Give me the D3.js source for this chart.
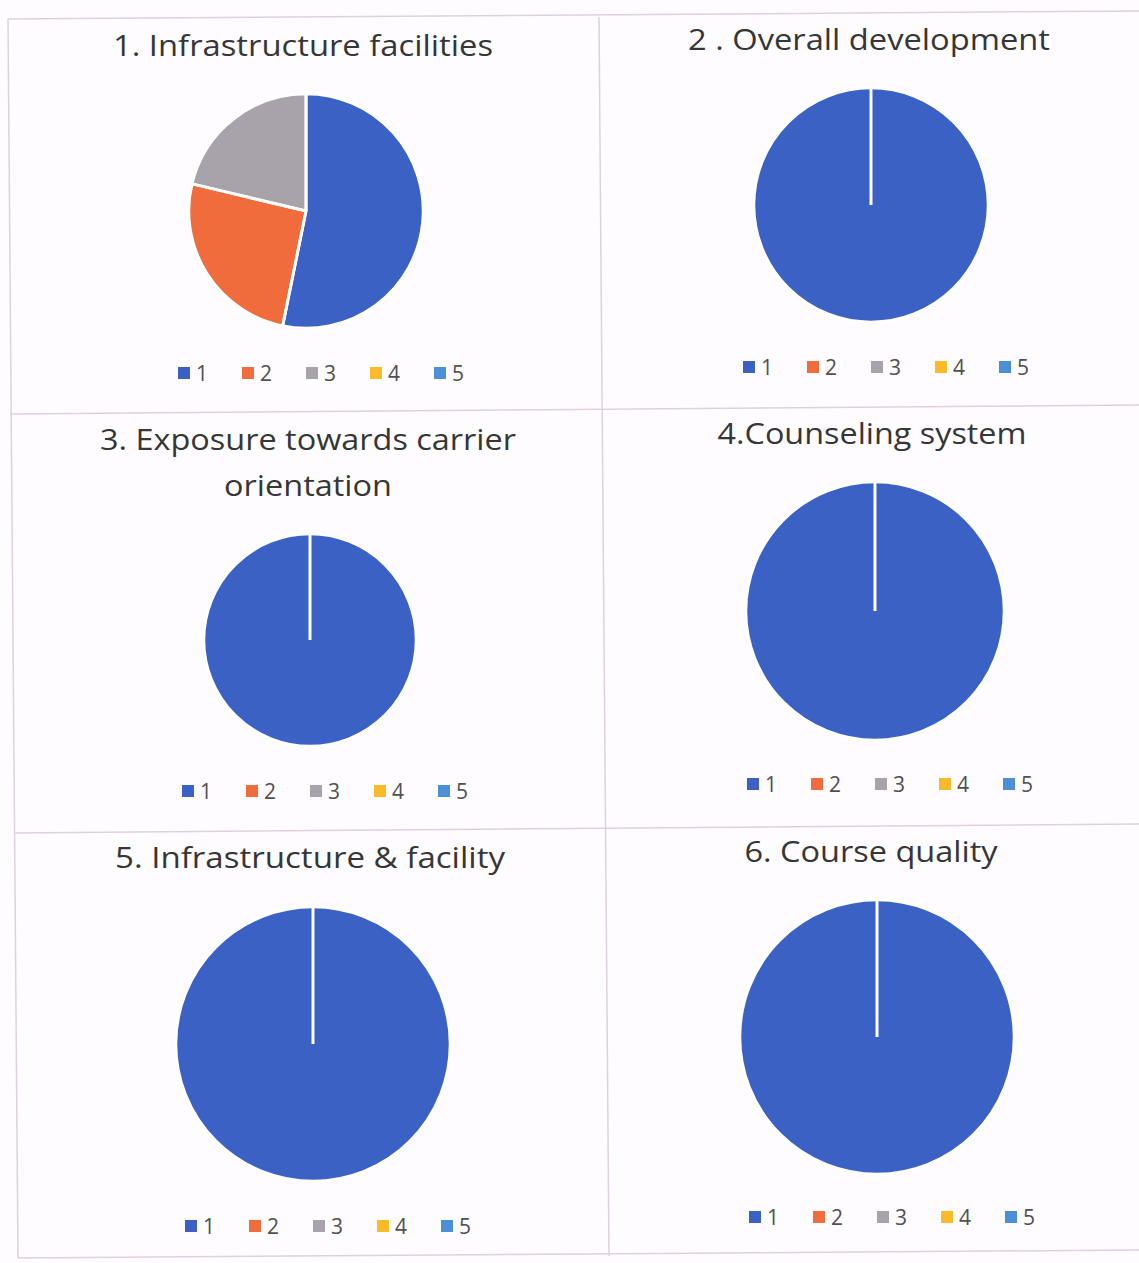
<!DOCTYPE html>
<html><head><meta charset="utf-8">
<script src="https://cdn.jsdelivr.net/npm/d3@7"></script>
<style>html,body{margin:0;padding:0;background:#fefcfe;}svg{display:block;}</style>
</head><body>
<script>
// ---- data ----
const categories = ["1","2","3","4","5"];
const titles = [
  ["1. Infrastructure facilities"],
  ["2 . Overall development"],
  ["3. Exposure towards carrier","orientation"],
  ["4.Counseling system"],
  ["5. Infrastructure & facility"],
  ["6. Course quality"]
];
const values1 = [25, 12, 10, 0, 0];
const values2 = [47, 0, 0, 0, 0];
const values3 = [47, 0, 0, 0, 0];
const values4 = [47, 0, 0, 0, 0];
const values5 = [47, 0, 0, 0, 0];
const values6 = [47, 0, 0, 0, 0];
const seriesValues = [values1, values2, values3, values4, values5, values6];
const colors = ["#3b61c5", "#f06c3c", "#a8a2aa", "#fcb92a", "#4b8fd6"];

// ---- layout (per panel) ----
const W = 1139, H = 1263;
const panels = [
  {cx:306, cy:211, r:117, titleY:[56], titleX:303, titleW:[380], legX:178, legY:373},
  {cx:871, cy:205, r:117, titleY:[50], titleX:869, titleW:[362], legX:743, legY:367},
  {cx:310, cy:640, r:106, titleY:[450,496], titleX:308, titleW:[416,168], legX:182, legY:791},
  {cx:875, cy:611, r:129, titleY:[444], titleX:872, titleW:[309], legX:747, legY:784},
  {cx:313, cy:1044, r:137, titleY:[868], titleX:310, titleW:[390], legX:185, legY:1226},
  {cx:877, cy:1037, r:137, titleY:[862], titleX:871, titleW:[253], legX:749, legY:1217}
];

const svg = d3.select("body").append("svg").attr("width", W).attr("height", H);
svg.append("rect").attr("width", W).attr("height", H).attr("fill", "#fefcfe");

// grid frame (scanned, slightly rotated)
const frame = [
  [[8,19],[1139,11]],
  [[10,414],[1139,405]],
  [[14,833],[1139,824]],
  [[18,1258],[1139,1250]],
  [[8,19],[18,1258]],
  [[599,17],[609,1256]]
];
svg.append("g").selectAll("line").data(frame).join("line")
  .attr("x1", d=>d[0][0]).attr("y1", d=>d[0][1])
  .attr("x2", d=>d[1][0]).attr("y2", d=>d[1][1])
  .attr("stroke", "#ddd1df").attr("stroke-width", 1.5);

const color = d3.scaleOrdinal().domain(categories).range(colors);
const pie = d3.pie().sort(null).value(d => d.v);

panels.forEach((p, i) => {
  const g = svg.append("g");
  // title
  titles[i].forEach((t, j) => {
    g.append("text")
      .attr("x", p.titleX).attr("y", p.titleY[j])
      .attr("text-anchor", "middle")
      .attr("font-family", "'Open Sans', 'Noto Sans', sans-serif")
      .attr("font-size", 30)
      .attr("fill", "#363636")
      .attr("textLength", p.titleW[j])
      .attr("lengthAdjust", "spacingAndGlyphs")
      .text(t);
  });
  // pie
  const data = categories.map((c, k) => ({c, v: seriesValues[i][k]}));
  const arcs = pie(data).filter(a => a.value > 0);
  const arc = d3.arc().innerRadius(0).outerRadius(p.r);
  const pg = g.append("g").attr("transform", `translate(${p.cx},${p.cy})`);
  pg.selectAll("path").data(arcs).join("path")
    .attr("d", arc)
    .attr("fill", d => color(d.data.c))
    .attr("stroke", "#ffffff").attr("stroke-width", 2.5);
  // slice boundary lines (visible even when one slice fills the circle)
  pg.selectAll("line").data(arcs).join("line")
    .attr("x1", 0).attr("y1", 0)
    .attr("x2", d => p.r * Math.sin(d.startAngle))
    .attr("y2", d => -p.r * Math.cos(d.startAngle))
    .attr("stroke", "#ffffff").attr("stroke-width", 3);
  // legend
  const lx = d3.scalePoint().domain(categories).range([p.legX, p.legX + 256]);
  const lg = g.append("g");
  const items = lg.selectAll("g").data(categories).join("g")
    .attr("transform", d => `translate(${lx(d)},${p.legY})`);
  items.append("rect").attr("x", 0).attr("y", -6).attr("width", 12).attr("height", 12)
    .attr("fill", d => color(d));
  items.append("text").attr("x", 18).attr("y", 8)
    .attr("font-family", "'Open Sans', 'Noto Sans', sans-serif")
    .attr("font-size", 21).attr("fill", "#505050")
    .text(d => d);
});
</script>
</body></html>
